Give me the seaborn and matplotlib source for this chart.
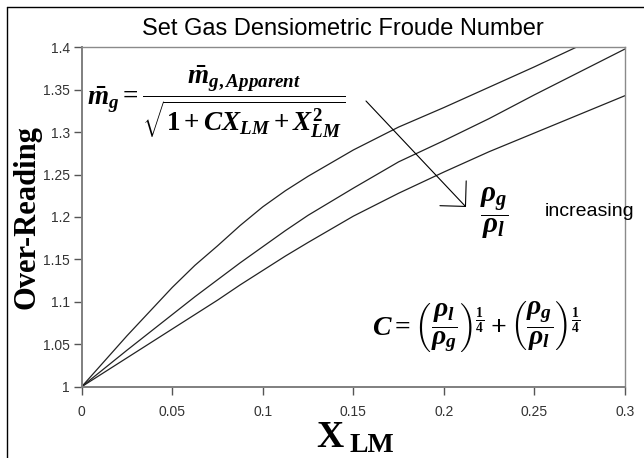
import matplotlib
matplotlib.use("Agg")
import matplotlib.pyplot as plt
import numpy as np
import pandas as pd
import seaborn as sns

# ---- data ----
x_lm = [0, 0.025, 0.05, 0.0625, 0.075, 0.0875, 0.1, 0.1125, 0.125, 0.15, 0.175, 0.2, 0.225, 0.25, 0.275, 0.3]
over_reading_high = [1.0, 1.060, 1.117, 1.143, 1.166, 1.190, 1.212, 1.231, 1.248, 1.279, 1.306, 1.329, 1.353, 1.377, 1.402, 1.428]
over_reading_mid = [1.0, 1.043, 1.085, 1.106, 1.126, 1.146, 1.165, 1.184, 1.202, 1.234, 1.265, 1.290, 1.316, 1.344, 1.371, 1.398]
over_reading_low = [1.0, 1.034, 1.068, 1.085, 1.102, 1.120, 1.137, 1.154, 1.170, 1.201, 1.228, 1.253, 1.277, 1.299, 1.321, 1.343]
series_names = ["high", "mid", "low"]
x_ticks = [0, 0.05, 0.1, 0.15, 0.2, 0.25, 0.3]
x_tick_labels = ["0", "0.05", "0.1", "0.15", "0.2", "0.25", "0.3"]
y_ticks = [1, 1.05, 1.1, 1.15, 1.2, 1.25, 1.3, 1.35, 1.4]
y_tick_labels = ["1", "1.05", "1.1", "1.15", "1.2", "1.25", "1.3", "1.35", "1.4"]

df = pd.DataFrame({
    "x": x_lm * 3,
    "y": over_reading_high + over_reading_mid + over_reading_low,
    "series": sum([[n] * len(x_lm) for n in series_names], []),
})

sns.set_style("white")
plt.rcParams["font.family"] = ["Liberation Sans", "DejaVu Sans"]
plt.rcParams["mathtext.fontset"] = "custom"
plt.rcParams["mathtext.rm"] = "Liberation Serif:bold"
plt.rcParams["mathtext.it"] = "Liberation Serif:bold:italic"
plt.rcParams["mathtext.bf"] = "Liberation Serif:bold"

W, H = 644, 458
fig = plt.figure(figsize=(W / 100, H / 100), dpi=100)
fig.patch.set_facecolor("white")

def fx(px):
    return px / W

def fy(py):
    return 1 - py / H

ax = fig.add_axes([fx(81.7), fy(386.7), fx(625) - fx(81.7), fy(47.3) - fy(386.7)])
sns.lineplot(data=df, x="x", y="y", hue="series", palette=["#222222"] * 3,
             legend=False, ax=ax, linewidth=0.9, sort=True)
ax.set_xlim(0, 0.3)
ax.set_ylim(1, 1.4)
ax.set_xticks(x_ticks)
ax.set_xticklabels(x_tick_labels)
ax.set_yticks(y_ticks)
ax.set_yticklabels(y_tick_labels)
ax.set_xlabel("")
ax.set_ylabel("")
for s in ["left", "bottom"]:
    ax.spines[s].set_color("#7f7f7f")
    ax.spines[s].set_linewidth(1.4)
for s in ["top", "right"]:
    ax.spines[s].set_color("#8a8a8a")
    ax.spines[s].set_linewidth(1.0)
ax.tick_params(axis="both", which="major", direction="out", length=5.5, width=1,
               color="#555555", labelsize=10, labelcolor="#333333", pad=3)
ax.tick_params(axis="x", bottom=True, pad=8)
ax.tick_params(axis="y", left=True)

# outer frame lines (left and top)
fig.add_artist(plt.Line2D([fx(7.3), fx(7.3)], [0, fy(7.3)], color="black", lw=1, transform=fig.transFigure))
fig.add_artist(plt.Line2D([fx(7.3), 1], [fy(7.3), fy(7.3)], color="black", lw=1, transform=fig.transFigure))

# title
fig.text(fx(343), fy(29), "Set Gas Densiometric Froude Number", ha="center", va="center",
         fontsize=17, color="black")

# axis labels
fig.text(fx(27), fy(217), "Over-Reading", rotation=90, ha="center", va="center",
         fontsize=22, fontweight="bold", family="Liberation Serif", color="black")
fig.text(fx(330), fy(446.7), "X", ha="center", va="baseline",
         fontsize=27, fontweight="bold", family="Liberation Serif", color="black")
fig.text(fx(349), fy(451.7), "LM", ha="left", va="baseline",
         fontsize=20, fontweight="bold", family="Liberation Serif", color="black")

# formulas
fig.text(fx(87), fy(102),
         r"$\bar{m}_g=\dfrac{\bar{m}_{g,Apparent}}{\sqrt{1+CX_{LM}+X_{LM}^2}}$",
         ha="left", va="center", fontsize=19.5, color="black")
fig.text(fx(476), fy(327),
         r"$C=\left(\dfrac{\rho_l}{\rho_g}\right)^{\frac{1}{4}}+\left(\dfrac{\rho_g}{\rho_l}\right)^{\frac{1}{4}}$",
         ha="center", va="center", fontsize=20, color="black")
fig.text(fx(494), fy(213), r"$\dfrac{\rho_g}{\rho_l}$", ha="center", va="center",
         fontsize=21, color="black")
fig.text(fx(545), fy(212), "increasing", ha="left", va="center", fontsize=14, color="black")

# arrow
fig.add_artist(matplotlib.patches.FancyArrowPatch(
    (fx(366), fy(101)), (fx(466), fy(207)), transform=fig.transFigure,
    arrowstyle="->,head_length=0.65,head_width=0.65", mutation_scale=20,
    shrinkA=0, shrinkB=0, color="black", lw=0.8))

fig.savefig("out.png", dpi=100, facecolor="white")
